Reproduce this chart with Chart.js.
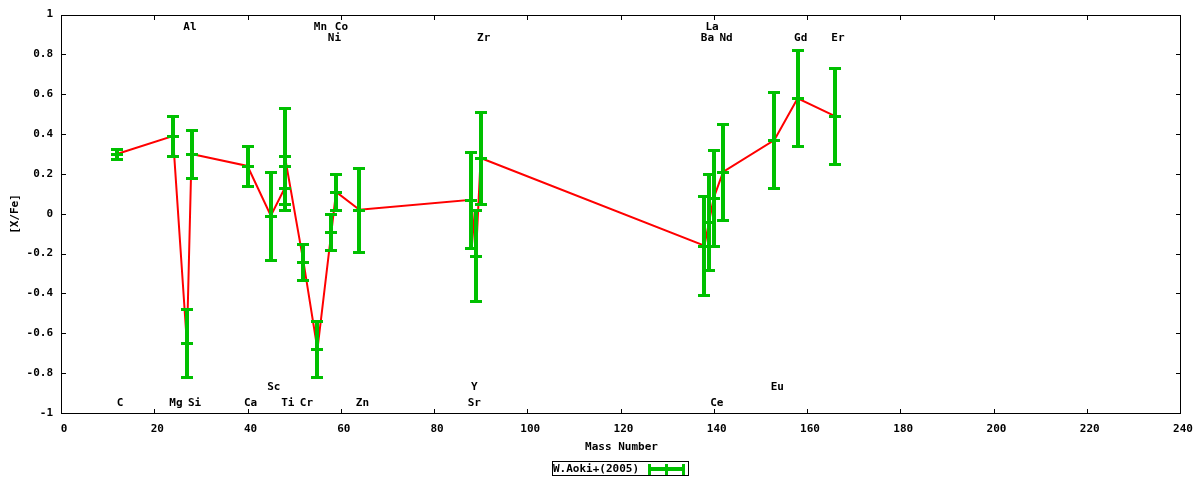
<!DOCTYPE html>
<html>
<head>
<meta charset="utf-8">
<script src="https://cdn.jsdelivr.net/npm/chart.js@4.4.1/dist/chart.umd.min.js"></script>
<style>
  html, body { margin: 0; padding: 0; background: #fff; }
  #wrap { width: 1200px; height: 480px; }
</style>
</head>
<body>
<div id="wrap"><canvas id="myChart" width="1200" height="480"></canvas></div>
<script>
// W.Aoki+(2005): [X/Fe] against mass number of the main isotope
var elements    = ['C', 'Mg', 'Al', 'Si', 'Ca', 'Sc', 'Ti', 'Ti', 'Cr', 'Mn', 'Ni', 'Co', 'Zn', 'Sr', 'Y', 'Zr', 'Ba', 'La', 'Ce', 'Nd', 'Eu', 'Gd', 'Er'];
var massNumbers = [12, 24, 27, 28, 40, 45, 48, 48, 52, 55, 58, 59, 64, 88, 89, 90, 138, 139, 140, 142, 153, 158, 166];
var abundances  = [0.30, 0.39, -0.65, 0.30, 0.24, -0.01, 0.13, 0.29, -0.24, -0.68, -0.09, 0.11, 0.02, 0.07, -0.21, 0.28, -0.16, -0.04, 0.08, 0.21, 0.37, 0.58, 0.49];
var errors      = [0.025, 0.10, 0.17, 0.12, 0.10, 0.22, 0.11, 0.24, 0.09, 0.14, 0.09, 0.09, 0.21, 0.24, 0.23, 0.23, 0.25, 0.24, 0.24, 0.24, 0.24, 0.24, 0.24];

// element names written along the top and bottom of the plot
var labelNames = ['Al', 'Mn', 'Co', 'La', 'Ni', 'Zr', 'Ba', 'Nd', 'Gd', 'Er', 'Sc', 'Y', 'Eu', 'C', 'Mg', 'Si', 'Ca', 'Ti', 'Cr', 'Zn', 'Sr', 'Ce'];
var labelMass  = [27, 55, 59.5, 139, 58, 90, 138, 142, 158, 166, 45, 88, 153, 12, 24, 28, 40, 48, 52, 64, 88, 140];
var labelRow   = [0, 0, 0, 0, 1, 1, 1, 1, 1, 1, 2, 2, 2, 3, 3, 3, 3, 3, 3, 3, 3, 3];
var rowLevel   = [0.935, 0.88, -0.87, -0.95];

var xTicks = [0, 20, 40, 60, 80, 100, 120, 140, 160, 180, 200, 220, 240];
var yTicks = [-1, -0.8, -0.6, -0.4, -0.2, 0, 0.2, 0.4, 0.6, 0.8, 1];

var GREEN = '#00c000';
var RED = '#ff0000';
var FONT = 'bold 11px "DejaVu Sans Mono", "Liberation Mono", monospace';

Chart.defaults.font.family = '"DejaVu Sans Mono", "Liberation Mono", monospace';
Chart.defaults.font.size = 11;
Chart.defaults.font.weight = 'bold';
Chart.defaults.color = '#000';

var points = [];
for (var i = 0; i < massNumbers.length; i++) {
  points.push({ x: massNumbers[i], y: abundances[i] });
}

var gnuplotLook = {
  id: 'gnuplotLook',
  afterDatasetsDraw: function(chart) {
    var c = chart.ctx;
    var xs = chart.scales.x, ys = chart.scales.y;
    c.save();
    c.fillStyle = GREEN;
    for (var i = 0; i < massNumbers.length; i++) {
      var px = Math.round(xs.getPixelForValue(massNumbers[i]));
      var top = Math.round(ys.getPixelForValue(abundances[i] + errors[i]));
      var mid = Math.round(ys.getPixelForValue(abundances[i]));
      var bot = Math.round(ys.getPixelForValue(abundances[i] - errors[i]));
      c.fillRect(px - 2, top, 4, bot - top);
      c.fillRect(px - 6, top - 1, 12, 3);
      c.fillRect(px - 6, mid - 1, 12, 3);
      c.fillRect(px - 6, bot - 1, 12, 3);
    }
    c.restore();
  },
  afterDraw: function(chart) {
    var c = chart.ctx, a = chart.chartArea;
    var xs = chart.scales.x, ys = chart.scales.y;
    var L = Math.round(a.left), R = Math.round(a.right), T = Math.round(a.top), B = Math.round(a.bottom);
    c.save();

    // frame and inward ticks on all four sides
    c.fillStyle = '#000';
    c.fillRect(L, T, R - L + 1, 1);
    c.fillRect(L, B, R - L + 1, 1);
    c.fillRect(L, T, 1, B - T + 1);
    c.fillRect(R, T, 1, B - T + 1);
    xTicks.forEach(function(v) {
      var px = Math.round(xs.getPixelForValue(v));
      c.fillRect(px, B - 4, 1, 4);
      c.fillRect(px, T + 1, 1, 4);
    });
    yTicks.forEach(function(v) {
      var py = Math.round(ys.getPixelForValue(v));
      c.fillRect(L + 1, py, 4, 1);
      c.fillRect(R - 4, py, 4, 1);
    });

    // element names
    c.font = FONT;
    c.textAlign = 'center';
    c.textBaseline = 'middle';
    for (var i = 0; i < labelNames.length; i++) {
      var lx = xs.getPixelForValue(labelMass[i]) + 3;
      var ly = ys.getPixelForValue(rowLevel[labelRow[i]]);
      c.fillText(labelNames[i], lx, ly);
    }

    // axis titles
    c.fillText('Mass Number', (L + R) / 2 + 1, 447);
    c.save();
    c.translate(15, (T + B) / 2);
    c.rotate(-Math.PI / 2);
    c.fillText('[X/Fe]', 0, 0);
    c.restore();

    // key box with an error bar sample
    var kx = 552, ky = 461, kw = 137, kh = 15;
    c.fillRect(kx, ky, kw, 1);
    c.fillRect(kx, ky + kh - 1, kw, 1);
    c.fillRect(kx, ky, 1, kh);
    c.fillRect(kx + kw - 1, ky, 1, kh);
    c.textAlign = 'left';
    c.fillText(chart.data.datasets[0].label, kx + 1, ky + kh / 2 + 1);
    c.fillStyle = GREEN;
    var sy = ky + Math.round(kh / 2);
    c.fillRect(648, sy - 2, 37, 4);
    c.fillRect(648, sy - 5, 3, 11);
    c.fillRect(682, sy - 5, 3, 11);
    c.fillRect(665, sy - 5, 3, 11);
    c.restore();
  }
};

var ctx = document.getElementById('myChart').getContext('2d');
var myChart = new Chart(ctx, {
  type: 'scatter',
  data: {
    datasets: [{
      label: 'W.Aoki+(2005)',
      data: points,
      showLine: true,
      borderColor: RED,
      borderWidth: 2,
      pointRadius: 0,
      fill: false,
      tension: 0
    }]
  },
  options: {
    responsive: false,
    animation: false,
    devicePixelRatio: 1,
    layout: { padding: { top: 14, right: 20, left: 0, bottom: 0 } },
    plugins: { legend: { display: false }, tooltip: { enabled: false } },
    scales: {
      x: {
        type: 'linear',
        min: 0,
        max: 240,
        afterBuildTicks: function(s) { s.ticks = xTicks.map(function(v) { return { value: v }; }); },
        afterFit: function(s) { s.height = 67; },
        grid: { display: false, drawTicks: false },
        border: { display: false },
        ticks: { padding: 10, labelOffset: 3, maxRotation: 0, autoSkip: false, color: '#000' }
      },
      y: {
        type: 'linear',
        min: -1,
        max: 1,
        afterBuildTicks: function(s) { s.ticks = yTicks.map(function(v) { return { value: v }; }); },
        afterFit: function(s) { s.width = 61; },
        grid: { display: false, drawTicks: false },
        border: { display: false },
        ticks: {
          padding: 8,
          color: '#000',
          callback: function(v) { return String(parseFloat(Number(v).toFixed(1))); }
        }
      }
    }
  },
  plugins: [gnuplotLook]
});
</script>
</body>
</html>
